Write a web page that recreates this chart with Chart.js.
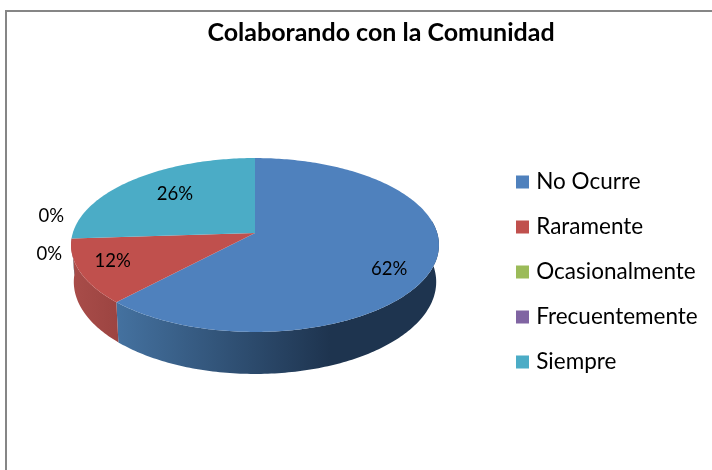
<!DOCTYPE html>
<html><head><meta charset="utf-8">
<style>html,body{margin:0;padding:0;background:#fff}#w{width:712px;height:470px}</style>
<script src="https://cdn.jsdelivr.net/npm/chart.js@4"></script></head>
<body><div id="w"><canvas id="c" width="712" height="470"></canvas></div>
<script>
const titleText = 'Colaborando con la Comunidad';
const categories = ['No Ocurre','Raramente','Ocasionalmente','Frecuentemente','Siempre'];
const shares = [62,12,0,0,26];
const faceColors = ['#4f81bd','#c0504d','#9bbb59','#8064a2','#4bacc6'];
const wallColors = [['#44719f','#1e344f'],['#a84c49','#9c4441'],['#7f9a49','#7f9a49'],['#6a5387','#6a5387'],['#3f90a6','#3f90a6']];
const labelReach = [0.75,0.75,1.12,1.12,0.75];
const labelNudge = [[2,12],[-13,0],[0,15],[2,-23],[13,2]];
const FONT = 'Lato, Carlito, sans-serif';

const P = 0.138, KX = 182.2/184, KY = 85.3/184, DEPTH = 36.2/184, BX = 0.985;
function proj(a, cx, cy, R, f, low){
  const th = a + Math.PI/2, u = Math.sin(th)*f, v = -Math.cos(th)*f, d = 1 - P*v;
  let x = KX*R*u/d, y = KY*R*v/d;
  if(low){ x *= BX; y += DEPTH*R/d; }
  return [cx+x, cy+y];
}
const pie3d = {
  id:'pie3d',
  afterLayout(ch){
    ch.chartArea.left=71; ch.chartArea.right=439; ch.chartArea.top=49; ch.chartArea.bottom=417;
    ch.chartArea.width=368; ch.chartArea.height=368;
    const l = ch.legend, w = l.right-l.left, h = l.bottom-l.top;
    l.left=497.5; l.right=497.5+w;
    l.top=272-h/2; l.bottom=272+h/2;
    ch.titleBlock.left+=25; ch.titleBlock.right+=25;
  },
  beforeDraw(ch){
    const c = ch.ctx; c.save(); c.fillStyle='#fff'; c.fillRect(0,0,712,470);
    c.strokeStyle='#868686'; c.lineWidth=2; c.beginPath();
    c.moveTo(6,470); c.lineTo(6,11); c.lineTo(712,11); c.stroke(); c.restore();
  },
  beforeDatasetsDraw(ch){
    const c = ch.ctx, arcs = ch.getDatasetMeta(0).data;
    const lo = -Math.PI/2 + 82*Math.PI/180, hi = -Math.PI/2 + 267*Math.PI/180;
    const path = (s,e,f,low,first)=>{
      const n = Math.max(2, Math.ceil(Math.abs(e-s)*60));
      for(let i=0;i<=n;i++){
        const p = proj(s+(e-s)*i/n, arcs[0].x, arcs[0].y, arcs[0].outerRadius, f, low);
        if(i===0&&first) c.moveTo(p[0],p[1]); else c.lineTo(p[0],p[1]);
      }
    };
    c.save();
    arcs.forEach((a,i)=>{
      const s = Math.max(a.startAngle,lo), e = Math.min(a.endAngle,hi);
      if(e<=s) return;
      const p0 = proj(s,a.x,a.y,a.outerRadius,1,true), p1 = proj(e,a.x,a.y,a.outerRadius,1,true);
      const gx0 = Math.min(p0[0],p1[0]), gx1 = i===0 ? a.x+75 : Math.max(p0[0],p1[0]);
      const g = c.createLinearGradient(gx0,0,gx1,0);
      g.addColorStop(0,wallColors[i][0]); g.addColorStop(1,wallColors[i][1]);
      c.fillStyle=g; c.beginPath();
      path(s,e,1,false,true); path(e,s,1,true,false); c.closePath(); c.fill();
    });
    arcs.forEach((a,i)=>{
      if(a.endAngle-a.startAngle<=0) return;
      c.fillStyle=faceColors[i]; c.beginPath();
      c.moveTo(a.x,a.y); path(a.startAngle,a.endAngle,1,false,false); c.closePath(); c.fill();
    });
    c.fillStyle='#000'; c.font='18.5px '+FONT; c.textAlign='center'; c.textBaseline='middle';
    arcs.forEach((a,i)=>{
      const p = proj((a.startAngle+a.endAngle)/2,a.x,a.y,a.outerRadius,labelReach[i],false);
      c.fillText(shares[i]+'%',p[0]+labelNudge[i][0],p[1]+labelNudge[i][1]);
    });
    c.restore();
    return false;
  }
};
new Chart(document.getElementById('c'),{
  type:'pie',
  data:{labels:categories,datasets:[{data:shares,backgroundColor:faceColors,borderWidth:0}]},
  options:{
    responsive:false,animation:false,
    plugins:{
      title:{display:true,text:titleText,color:'#000',font:{family:FONT,size:25,weight:'bold'},padding:{top:18,bottom:6}},
      legend:{position:'right',labels:{color:'#000',font:{family:FONT,size:22.5},usePointStyle:true,pointStyle:'rect',boxWidth:5,boxHeight:13,padding:22.5}},
      tooltip:{enabled:false}
    }
  },
  plugins:[pie3d]
});
</script></body></html>
